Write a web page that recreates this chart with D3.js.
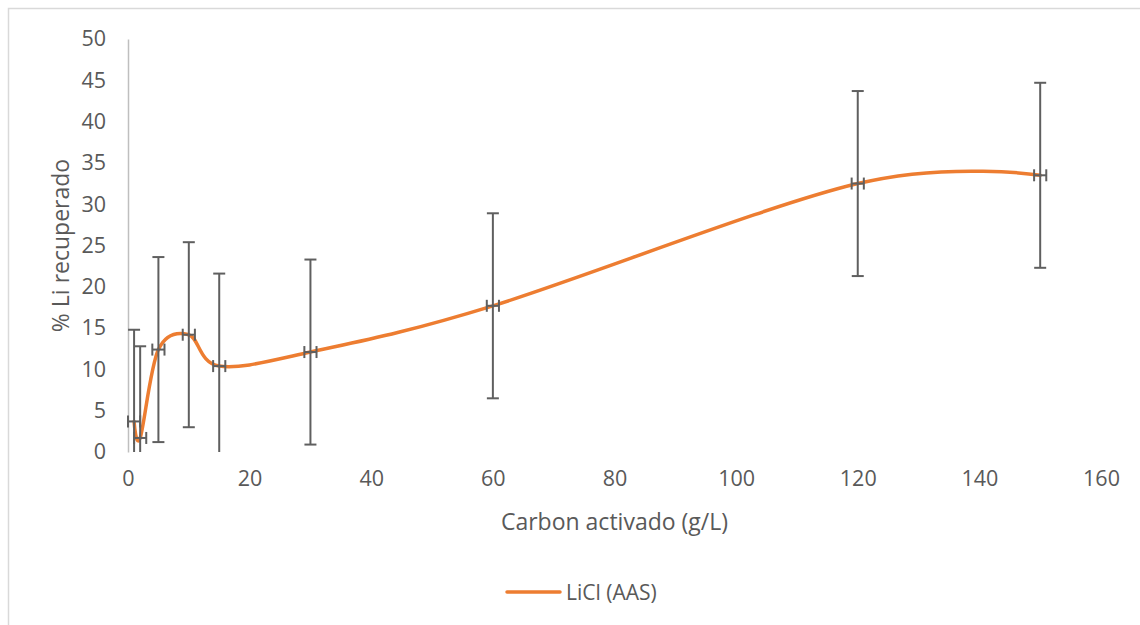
<!DOCTYPE html>
<html>
<head>
<meta charset="utf-8">
<script src="https://cdn.jsdelivr.net/npm/d3@7"></script>
<style>
  body { margin: 0; background: #fff; }
  text { font-family: "Open Sans", sans-serif; fill: #595959; }
</style>
</head>
<body>
<div id="chart"></div>
<script>
// Carbon activado (g/L) vs % Li recuperado
const carbon = [1, 2, 5, 10, 15, 30, 60, 120, 150];
const liRecovered = [3.7, 1.7, 12.4, 14.2, 10.4, 12.1, 17.7, 32.5, 33.5];
const yError = [11.1, 11.1, 11.2, 11.2, 11.2, 11.2, 11.2, 11.2, 11.2];
const xError = [1, 1, 1, 1, 1, 1, 1, 1, 1];
const xTicks = [0, 20, 40, 60, 80, 100, 120, 140, 160];
const yTicks = [0, 5, 10, 15, 20, 25, 30, 35, 40, 45, 50];
const seriesName = 'LiCl (AAS)';

const W = 1140, H = 625;
const margin = {top: 39, right: 39, bottom: 173, left: 128};
const width = W - margin.left - margin.right;
const height = H - margin.top - margin.bottom;

const svg = d3.select('#chart').append('svg')
    .attr('width', W)
    .attr('height', H);

// chart frame (runs off the right and bottom edge)
svg.append('rect')
    .attr('x', 8.5).attr('y', 8.5)
    .attr('width', W + 20).attr('height', H + 20)
    .attr('fill', 'none')
    .attr('stroke', '#d9d9d9')
    .attr('stroke-width', 1.5);

const g = svg.append('g')
    .attr('transform', `translate(${margin.left},${margin.top})`);

const x = d3.scaleLinear().domain([0, 160]).range([0, width]);
const y = d3.scaleLinear().domain([0, 50]).range([height, 0]);

// y axis: line only, labels on the left
const yAxis = g.append('g')
    .call(d3.axisLeft(y).tickValues(yTicks).tickSize(0).tickPadding(22));
yAxis.select('.domain').attr('stroke', '#bfbfbf').attr('stroke-width', 1.5);
yAxis.selectAll('text').style('font-size', '21.5px').attr('fill', '#595959');

// x axis: no line, labels only
const xAxis = g.append('g')
    .attr('transform', `translate(0,${height})`)
    .call(d3.axisBottom(x).tickValues(xTicks).tickSize(0).tickPadding(19));
xAxis.select('.domain').remove();
xAxis.selectAll('text').style('font-size', '21.5px').attr('fill', '#595959');

const data = carbon.map((c, i) => ({x: c, y: liRecovered[i], ey: yError[i], ex: xError[i]}));

// smoothed series line
const line = d3.line()
    .x(d => x(d.x))
    .y(d => y(d.y))
    .curve(d3.curveCardinal.tension(0));

g.append('path')
    .datum(data)
    .attr('fill', 'none')
    .attr('stroke', '#ed7d31')
    .attr('stroke-width', 3.5)
    .attr('stroke-linecap', 'round')
    .attr('d', line);

// error bars
const errColor = '#5f5f5f';
const eb = g.append('g')
    .attr('stroke', errColor)
    .attr('stroke-width', 2)
    .attr('fill', 'none');

data.forEach(d => {
    const lo = Math.max(0, d.y - d.ey);
    const hi = d.y + d.ey;
    const cx = x(d.x);
    // vertical
    eb.append('line')
        .attr('x1', cx).attr('x2', cx)
        .attr('y1', y(lo)).attr('y2', y(hi));
    eb.append('line')
        .attr('x1', cx - 6).attr('x2', cx + 6)
        .attr('y1', y(hi)).attr('y2', y(hi));
    if (d.y - d.ey >= 0) {
        eb.append('line')
            .attr('x1', cx - 6).attr('x2', cx + 6)
            .attr('y1', y(lo)).attr('y2', y(lo));
    }
    // horizontal
    const cy = y(d.y);
    const xl = x(d.x - d.ex), xr = x(d.x + d.ex);
    eb.append('line')
        .attr('x1', xl).attr('x2', xr)
        .attr('y1', cy).attr('y2', cy);
    eb.append('line')
        .attr('x1', xl).attr('x2', xl)
        .attr('y1', cy - 6).attr('y2', cy + 6);
    eb.append('line')
        .attr('x1', xr).attr('x2', xr)
        .attr('y1', cy - 6).attr('y2', cy + 6);
});

// axis titles
svg.append('text')
    .attr('x', margin.left + width / 2)
    .attr('y', 530)
    .attr('text-anchor', 'middle')
    .style('font-size', '23px')
    .text('Carbon activado (g/L)');

svg.append('text')
    .attr('transform', `translate(69,${margin.top + height / 2}) rotate(-90)`)
    .attr('text-anchor', 'middle')
    .style('font-size', '23px')
    .text('% Li recuperado');

// legend
const legend = svg.append('g').attr('transform', 'translate(507,592)');
legend.append('line')
    .attr('x1', 0).attr('x2', 53)
    .attr('stroke', '#ed7d31')
    .attr('stroke-width', 3.5)
    .attr('stroke-linecap', 'round');
legend.append('text')
    .attr('x', 59).attr('y', 7.5)
    .style('font-size', '21px')
    .text(seriesName);
</script>
</body>
</html>
